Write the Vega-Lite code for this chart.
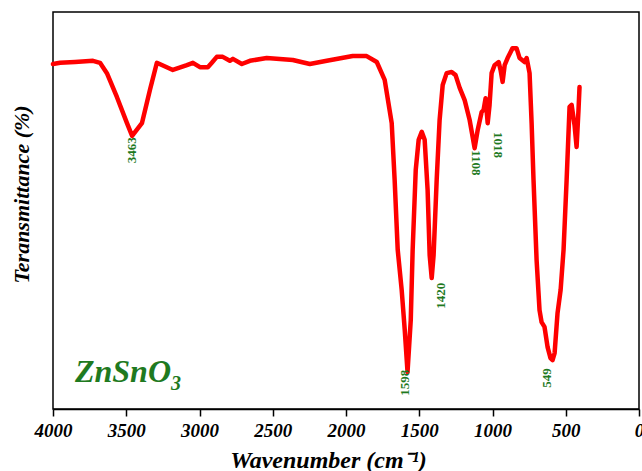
{
  "$schema": "https://vega.github.io/schema/vega-lite/v6.json",
  "width": 586,
  "height": 397,
  "autosize": {"type": "none"},
  "padding": {"left": 53, "top": 12, "right": 3, "bottom": 62},
  "config": {
    "view": {"stroke": "#000000", "strokeWidth": 1.5},
    "axis": {"labelFont": "Liberation Serif", "titleFont": "Liberation Serif"}
  },
  "datasets": {
    "spectrum": [
      {"wn": 4000, "t": 86.9}, {"wn": 3952, "t": 87.2}, {"wn": 3850, "t": 87.4}, {"wn": 3727, "t": 87.7},
      {"wn": 3679, "t": 87.2}, {"wn": 3632, "t": 84.6}, {"wn": 3564, "t": 78.6}, {"wn": 3495, "t": 72.0},
      {"wn": 3460, "t": 68.8}, {"wn": 3393, "t": 72.0}, {"wn": 3338, "t": 80.4}, {"wn": 3291, "t": 87.2},
      {"wn": 3182, "t": 85.4}, {"wn": 3086, "t": 86.6}, {"wn": 3045, "t": 87.2}, {"wn": 2997, "t": 86.1},
      {"wn": 2943, "t": 86.1}, {"wn": 2916, "t": 87.2}, {"wn": 2882, "t": 88.7}, {"wn": 2841, "t": 88.7},
      {"wn": 2793, "t": 87.7}, {"wn": 2772, "t": 88.2}, {"wn": 2711, "t": 86.9}, {"wn": 2656, "t": 87.7},
      {"wn": 2541, "t": 88.4}, {"wn": 2363, "t": 87.9}, {"wn": 2247, "t": 86.9}, {"wn": 2131, "t": 87.7},
      {"wn": 1954, "t": 88.9}, {"wn": 1859, "t": 88.9}, {"wn": 1790, "t": 87.4}, {"wn": 1736, "t": 82.9},
      {"wn": 1688, "t": 72.0}, {"wn": 1668, "t": 57.7}, {"wn": 1647, "t": 40.1}, {"wn": 1620, "t": 30.0},
      {"wn": 1599, "t": 19.9}, {"wn": 1580, "t": 9.3}, {"wn": 1558, "t": 22.4}, {"wn": 1545, "t": 40.1},
      {"wn": 1524, "t": 60.2}, {"wn": 1504, "t": 67.8}, {"wn": 1483, "t": 69.8}, {"wn": 1463, "t": 67.8},
      {"wn": 1443, "t": 55.2}, {"wn": 1429, "t": 38.8}, {"wn": 1415, "t": 33.0}, {"wn": 1402, "t": 38.8},
      {"wn": 1381, "t": 57.7}, {"wn": 1361, "t": 72.8}, {"wn": 1340, "t": 81.6}, {"wn": 1313, "t": 84.6},
      {"wn": 1279, "t": 84.9}, {"wn": 1252, "t": 84.1}, {"wn": 1224, "t": 80.9}, {"wn": 1190, "t": 77.8},
      {"wn": 1156, "t": 72.8}, {"wn": 1122, "t": 65.7}, {"wn": 1101, "t": 70.3}, {"wn": 1074, "t": 74.8},
      {"wn": 1061, "t": 75.3}, {"wn": 1047, "t": 78.3}, {"wn": 1033, "t": 72.0}, {"wn": 1020, "t": 76.6},
      {"wn": 1006, "t": 84.6}, {"wn": 986, "t": 86.6}, {"wn": 958, "t": 87.4}, {"wn": 945, "t": 85.4},
      {"wn": 931, "t": 82.4}, {"wn": 917, "t": 86.6}, {"wn": 897, "t": 88.4}, {"wn": 863, "t": 90.9},
      {"wn": 836, "t": 90.9}, {"wn": 815, "t": 88.4}, {"wn": 781, "t": 87.4}, {"wn": 767, "t": 88.4},
      {"wn": 747, "t": 84.6}, {"wn": 733, "t": 72.0}, {"wn": 720, "t": 57.7}, {"wn": 699, "t": 37.5},
      {"wn": 679, "t": 24.9}, {"wn": 665, "t": 21.9}, {"wn": 645, "t": 20.7}, {"wn": 624, "t": 15.6},
      {"wn": 604, "t": 12.8}, {"wn": 590, "t": 12.3}, {"wn": 576, "t": 14.1}, {"wn": 556, "t": 24.2},
      {"wn": 535, "t": 30.0}, {"wn": 515, "t": 40.1}, {"wn": 494, "t": 57.7}, {"wn": 474, "t": 76.1},
      {"wn": 460, "t": 76.6}, {"wn": 440, "t": 71.5}, {"wn": 426, "t": 66.0}, {"wn": 413, "t": 75.3},
      {"wn": 406, "t": 81.1}
    ],
    "peaks": [
      {"wn": 3463, "t": 65.2, "label": "3463", "ang": -90},
      {"wn": 1595, "t": 6.6, "label": "1598", "ang": -90},
      {"wn": 1354, "t": 28.5, "label": "1420", "ang": -90},
      {"wn": 1115, "t": 62.0, "label": "1108", "ang": 90},
      {"wn": 965, "t": 66.5, "label": "1018", "ang": 90},
      {"wn": 630, "t": 7.8, "label": "549", "ang": -90}
    ],
    "name": [
      {"wn": 3850, "t": 9.2, "label": "ZnSnO"}
    ],
    "sub": [
      {"wn": 3195, "t": 6.3, "label": "3"}
    ]
  },
  "layer": [
    {
      "data": {"name": "spectrum"},
      "mark": {"type": "line", "color": "#ff0000", "strokeWidth": 4.5, "strokeJoin": "round", "strokeCap": "round"},
      "encoding": {
        "x": {
          "field": "wn", "type": "quantitative",
          "scale": {"domain": [4000, 0], "nice": false, "zero": false},
          "axis": {
            "values": [4000, 3750, 3500, 3250, 3000, 2750, 2500, 2250, 2000, 1750, 1500, 1250, 1000, 750, 500, 250, 0],
            "labelExpr": "datum.value % 500 == 0 ? datum.label : ''",
            "format": "d",
            "labelFont": "Liberation Serif",
            "labelFontSize": 19, "labelFontWeight": "bold", "labelFontStyle": "italic", "labelColor": "#000000",
            "labelPadding": 5, "labelFlush": false, "labelOverlap": false,
            "tickColor": "#000000", "tickWidth": 1.5,
            "tickSize": {"condition": {"test": "datum.value % 500 == 0", "value": 7}, "value": 4},
            "domainColor": "#000000", "domainWidth": 1.5, "grid": false,
            "title": "Wavenumber (cm⁻¹)", "titleFont": "Liberation Serif", "titleFontSize": 24, "titleFontWeight": "bold", "titleFontStyle": "italic",
            "titleColor": "#000000", "titlePadding": 8, "titleX": 275, "titleAnchor": "start", "titleAlign": "center"
          }
        },
        "y": {
          "field": "t", "type": "quantitative",
          "scale": {"domain": [0, 100], "nice": false},
          "axis": {
            "labels": false, "ticks": false, "domain": false, "grid": false,
            "title": "Teransmittance (%)", "titleFont": "Liberation Serif", "titleFontSize": 22, "titleFontWeight": "bold", "titleFontStyle": "italic",
            "titleColor": "#000000", "titlePadding": 20, "titleY": 182, "titleAlign": "center"
          }
        }
      }
    },
    {
      "data": {"name": "peaks"},
      "mark": {"type": "text", "color": "#1f7a1f", "font": "Liberation Serif", "fontSize": 13, "fontWeight": "bold", "align": "center", "baseline": "middle"},
      "encoding": {
        "x": {"field": "wn", "type": "quantitative"},
        "y": {"field": "t", "type": "quantitative"},
        "angle": {"field": "ang", "type": "quantitative", "scale": null},
        "text": {"field": "label"}
      }
    },
    {
      "data": {"name": "name"},
      "mark": {"type": "text", "color": "#1f7a1f", "font": "Liberation Serif", "fontSize": 32, "fontWeight": "bold", "fontStyle": "italic", "align": "left", "baseline": "middle"},
      "encoding": {
        "x": {"field": "wn", "type": "quantitative"},
        "y": {"field": "t", "type": "quantitative"},
        "text": {"field": "label"}
      }
    },
    {
      "data": {"name": "sub"},
      "mark": {"type": "text", "color": "#1f7a1f", "font": "Liberation Serif", "fontSize": 20, "fontWeight": "bold", "fontStyle": "italic", "align": "left", "baseline": "middle"},
      "encoding": {
        "x": {"field": "wn", "type": "quantitative"},
        "y": {"field": "t", "type": "quantitative"},
        "text": {"field": "label"}
      }
    }
  ]
}
